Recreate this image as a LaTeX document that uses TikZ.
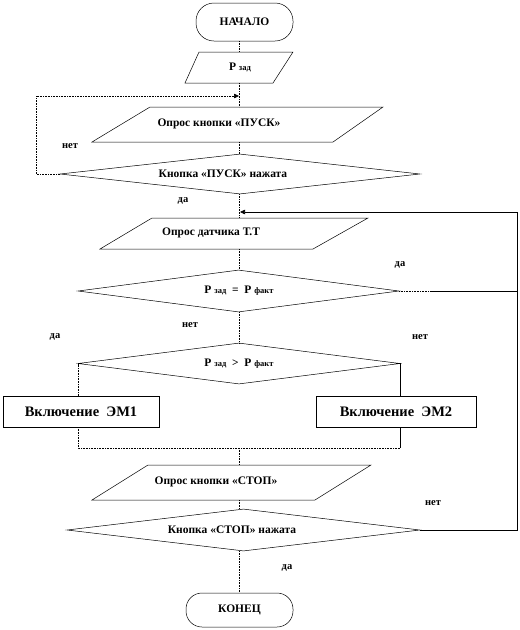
\documentclass[tikz,border=0pt]{standalone}
\usepackage{fontspec}
\setmainfont{Liberation Serif}
\usetikzlibrary{shapes.geometric,arrows.meta}
\begin{document}
\begin{tikzpicture}[x=1pt,y=-1pt,
 font=\bfseries\fontsize{11.5}{13}\selectfont,
 outline/.style={draw, line width=0.5pt},
 term/.style={outline, rectangle, inner sep=0pt},
 dec/.style={outline, diamond, inner sep=0pt, aspect=8},
 proc/.style={outline, rectangle, inner sep=0pt, font=\bfseries\fontsize{14.5}{16}\selectfont},
 txt/.style={inner sep=0pt},
 conn/.style={line width=0.6pt, densely dotted},
 sconn/.style={line width=0.6pt},
 lbl/.style={font=\bfseries\fontsize{10.5}{12}\selectfont, inner sep=0pt},
 tip/.style={-{Triangle[length=5pt,width=4.5pt]}}
]
\newcommand{\sm}[1]{{\fontsize{8.5}{9}\selectfont #1}}
\useasboundingbox (0,0) rectangle (520,630);

% terminals
\node[term, minimum width=97pt, minimum height=38pt, rounded corners=18pt] (start) at (244.5,22) {НАЧАЛО};
\node[term, minimum width=107pt, minimum height=34pt, rounded corners=16pt] (end) at (239.5,610) {КОНЕЦ};

% parallelogram 1
\draw[outline] (199,52) -- (293,52) -- (273,83) -- (185,83) -- cycle;
\node[txt] (p1) at (240,67) {Р \sm{зад}};
\coordinate (p1n) at (239,52);
\coordinate (p1s) at (239,83);

% parallelogram 2
\draw[outline] (150,107) -- (383,107) -- (333,142) -- (92,142) -- cycle;
\node[txt] (p2) at (219,124) {Опрос кнопки «ПУСК»};
\coordinate (p2n) at (239,107);
\coordinate (p2s) at (239,142);

% decision 1
\node[dec, minimum width=360pt, minimum height=40pt] (d1) at (240,174) {};
\node[txt] (d1t) at (223,174) {Кнопка «ПУСК» нажата};

% parallelogram 3
\draw[outline] (152,218) -- (368,218) -- (313,249) -- (100,249) -- cycle;
\node[txt] (p3) at (211,233) {Опрос датчика Т.Т};
\coordinate (p3n) at (239,218);
\coordinate (p3s) at (239,249);

% decision 2
\node[dec, minimum width=321pt, minimum height=42pt] (d2) at (238.5,291) {};
\node[txt] (d2t) at (239,291) {Р \sm{зад} \ = \ Р \sm{факт}};

% decision 3
\node[dec, minimum width=322pt, minimum height=41pt] (d3) at (239,363.5) {};
\node[txt] (d3t) at (239,364) {Р \sm{зад} \ > \ Р \sm{факт}};

% process boxes
\node[proc, minimum width=156pt, minimum height=31pt] (b1) at (81,411.5) {Включение \ ЭМ1};
\node[proc, minimum width=160pt, minimum height=31pt] (b2) at (396,411.5) {Включение \ ЭМ2};

% parallelogram 4
\draw[outline] (148,465) -- (371,465) -- (315,500) -- (92,500) -- cycle;
\node[txt] (p4) at (216,482) {Опрос кнопки «СТОП»};
\coordinate (p4n) at (239,465);
\coordinate (p4s) at (239,500);

% decision 4
\node[dec, minimum width=353pt, minimum height=42pt] (d4) at (243.5,530) {};
\node[txt] (d4t) at (232,530) {Кнопка «СТОП» нажата};

% helper coordinates
\coordinate (m1) at (239,96);
\coordinate (loopL) at (36,96);
\coordinate (m3) at (240,212);
\coordinate (R1) at (517,212);
\coordinate (R2) at (517,530);
\coordinate (d2m) at (430,291);
\coordinate (d2R) at (517,291);
\coordinate (jL) at (78,448);
\coordinate (jR) at (400,448);
\coordinate (jC) at (239,448);
\coordinate (b1n) at (78,396);
\coordinate (b1s) at (78,427);
\coordinate (b2n) at (400,396);
\coordinate (b2s) at (400,427);

% connectors
\draw[conn] (start.south -| p1n) -- (p1n);
\draw[conn] (p1s) -- (p2n);
\draw[conn] (p2s) -- (d1.north -| p2s);
\draw[conn, tip] (d1.west) -| (loopL) -- (m1);
\draw[conn] (d1.south -| p3n) -- (p3n);
\draw[conn] (p3s) -- (d2.north -| p3s);
\draw[conn] (d2.south -| d3.north) -- (d3.north);
\draw[conn] (d2.east) -- (d2m);
\draw[sconn] (d2m) -- (d2R);
\draw[sconn, tip] (d4.east) -- (R2) -- (R1) -- (m3);
\draw[conn] (d3.west) -- (d3.west -| b1n) -- (b1n);
\draw[sconn] (d3.east) -- (d3.east -| b2n) -- (b2n);
\draw[conn] (b1s) -- (jL) -- (jR);
\draw[sconn] (b2s) -- (jR);
\draw[conn] (jC) -- (p4n);
\draw[conn] (p4s) -- (d4.north -| p4s);
\draw[conn] (d4.south -| end.north) -- (end.north);

% labels
\node[lbl] (l1) at (70,146) {нет};
\node[lbl] (l2) at (183,201) {да};
\node[lbl] (l3) at (400,265) {да};
\node[lbl] (l4) at (190,325) {нет};
\node[lbl] (l5) at (55,337) {да};
\node[lbl] (l6) at (420,337) {нет};
\node[lbl] (l7) at (433,503) {нет};
\node[lbl] (l8) at (287,568) {да};
\end{tikzpicture}
\end{document}
